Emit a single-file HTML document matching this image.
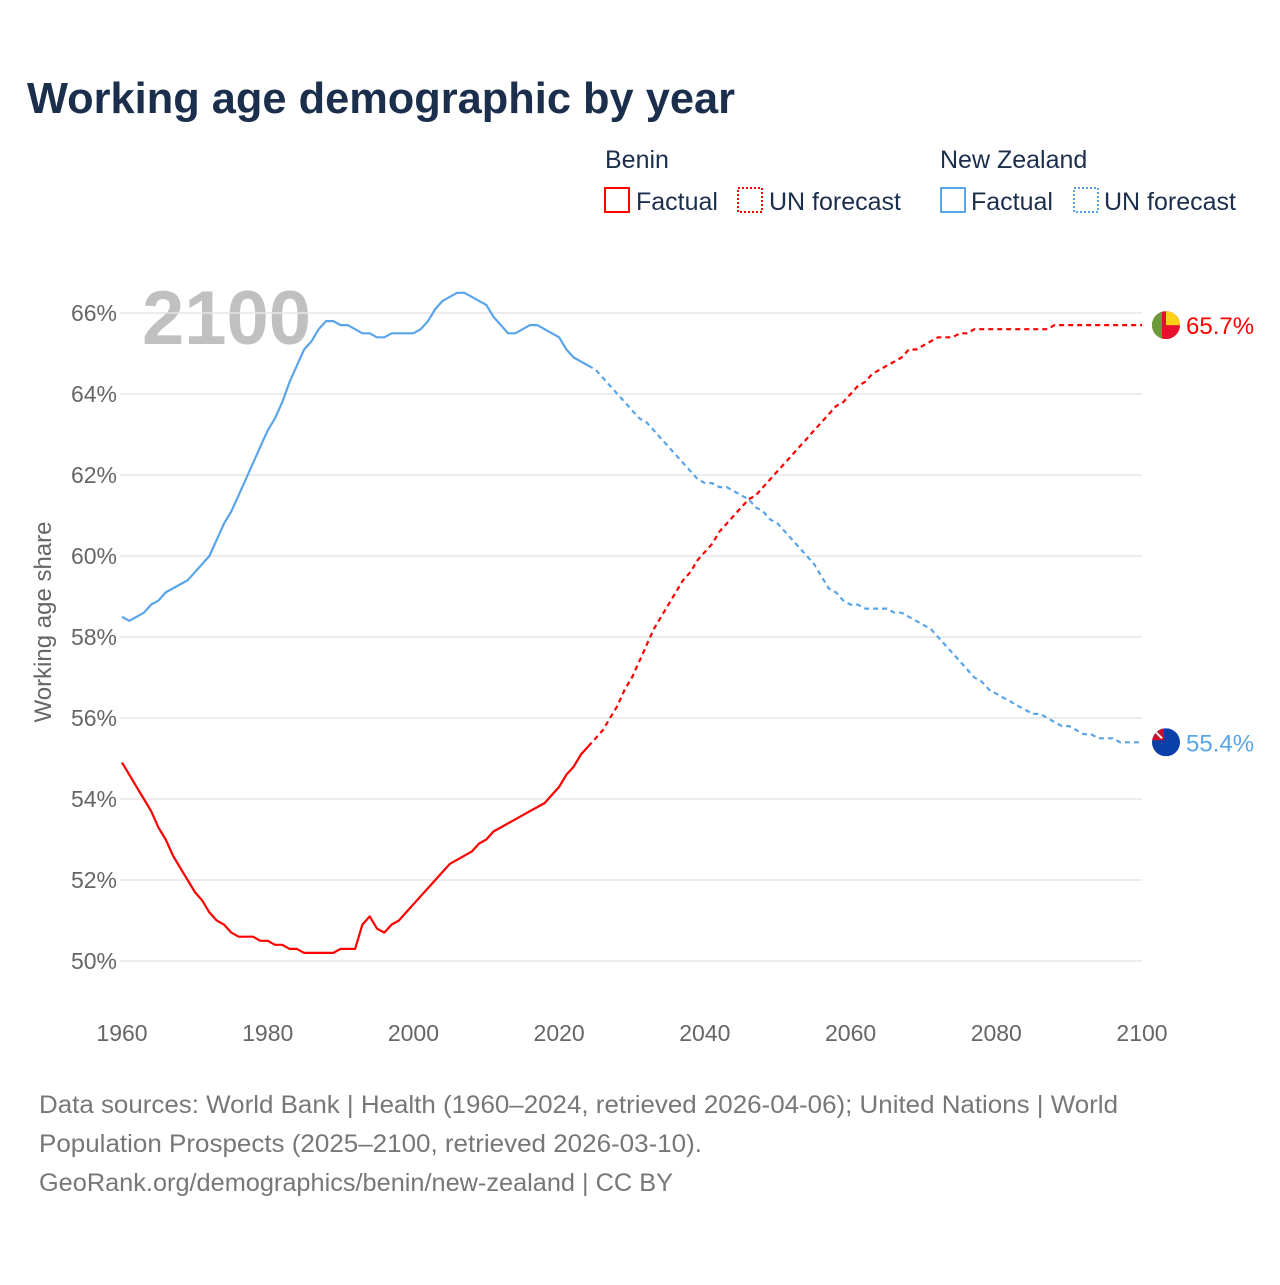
<!DOCTYPE html>
<html><head><meta charset="utf-8"><style>
body{margin:0;background:#fff;font-family:"Liberation Sans",sans-serif}
svg text{font-family:"Liberation Sans",sans-serif}
</style></head><body>
<svg id="chart" width="1280" height="1280" viewBox="0 0 1280 1280" xmlns="http://www.w3.org/2000/svg">
<text x="27" y="113" font-size="44" font-weight="bold" fill="#1b2f4d" textLength="708" lengthAdjust="spacingAndGlyphs">Working age demographic by year</text>
<g font-size="25" fill="#1b2f4d">
<text x="605" y="168">Benin</text>
<text x="940" y="168">New Zealand</text>
<g><rect x="605" y="188" width="24" height="24" fill="none" stroke="#f00" stroke-width="2"/><text x="636" y="210">Factual</text></g>
<g><rect x="738" y="188" width="24" height="24" fill="none" stroke="#f00" stroke-width="2" stroke-dasharray="2,2"/><text x="769" y="210">UN forecast</text></g>
<g><rect x="941" y="188" width="24" height="24" fill="none" stroke="#5aa5ea" stroke-width="2"/><text x="971" y="210">Factual</text></g>
<g><rect x="1074" y="188" width="24" height="24" fill="none" stroke="#5aa5ea" stroke-width="2" stroke-dasharray="2,2"/><text x="1104" y="210">UN forecast</text></g>
</g>
<text x="142" y="344" font-size="76" font-weight="bold" fill="#c0c0c0">2100</text>
<g id="grid"></g><g id="yticks"></g><g id="xticks"></g><g id="lines"></g><g id="ends"></g>
<text transform="translate(51,622) rotate(-90)" text-anchor="middle" font-size="24" fill="#666">Working age share</text>
<g font-size="25" fill="#777">
<text x="39" y="1113" textLength="1079" lengthAdjust="spacingAndGlyphs">Data sources: World Bank | Health (1960–2024, retrieved 2026-04-06); United Nations | World</text>
<text x="39" y="1152" textLength="663" lengthAdjust="spacingAndGlyphs">Population Prospects (2025–2100, retrieved 2026-03-10).</text>
<text x="39" y="1191" textLength="634" lengthAdjust="spacingAndGlyphs">GeoRank.org/demographics/benin/new-zealand | CC BY</text>
</g>
</svg>
<script>
const yTicks=[50,52,54,56,58,60,62,64,66];
const xTicks=[1960,1980,2000,2020,2040,2060,2080,2100];
const beninFactual=[54.9,54.6,54.3,54.0,53.7,53.3,53.0,52.6,52.3,52.0,51.7,51.5,51.2,51.0,50.9,50.7,50.6,50.6,50.6,50.5,50.5,50.4,50.4,50.3,50.3,50.2,50.2,50.2,50.2,50.2,50.3,50.3,50.3,50.9,51.1,50.8,50.7,50.9,51.0,51.2,51.4,51.6,51.8,52.0,52.2,52.4,52.5,52.6,52.7,52.9,53.0,53.2,53.3,53.4,53.5,53.6,53.7,53.8,53.9,54.1,54.3,54.6,54.8,55.1,55.3];
const beninForecast=[55.3,55.5,55.7,56.0,56.3,56.7,57.0,57.4,57.8,58.2,58.5,58.8,59.1,59.4,59.6,59.9,60.1,60.3,60.6,60.8,61.0,61.2,61.4,61.5,61.7,61.9,62.1,62.3,62.5,62.7,62.9,63.1,63.3,63.5,63.7,63.8,64.0,64.2,64.3,64.5,64.6,64.7,64.8,64.9,65.1,65.1,65.2,65.3,65.4,65.4,65.4,65.5,65.5,65.6,65.6,65.6,65.6,65.6,65.6,65.6,65.6,65.6,65.6,65.6,65.7,65.7,65.7,65.7,65.7,65.7,65.7,65.7,65.7,65.7,65.7,65.7,65.7];
const nzFactual=[58.5,58.4,58.5,58.6,58.8,58.9,59.1,59.2,59.3,59.4,59.6,59.8,60.0,60.4,60.8,61.1,61.5,61.9,62.3,62.7,63.1,63.4,63.8,64.3,64.7,65.1,65.3,65.6,65.8,65.8,65.7,65.7,65.6,65.5,65.5,65.4,65.4,65.5,65.5,65.5,65.5,65.6,65.8,66.1,66.3,66.4,66.5,66.5,66.4,66.3,66.2,65.9,65.7,65.5,65.5,65.6,65.7,65.7,65.6,65.5,65.4,65.1,64.9,64.8,64.7];
const nzForecast=[64.7,64.6,64.4,64.2,64.0,63.8,63.6,63.4,63.3,63.1,62.9,62.7,62.5,62.3,62.1,61.9,61.8,61.8,61.7,61.7,61.6,61.5,61.4,61.2,61.1,60.9,60.8,60.6,60.4,60.2,60.0,59.8,59.5,59.2,59.1,58.9,58.8,58.8,58.7,58.7,58.7,58.7,58.6,58.6,58.5,58.4,58.3,58.2,58.0,57.8,57.6,57.4,57.2,57.0,56.9,56.7,56.6,56.5,56.4,56.3,56.2,56.1,56.1,56.0,55.9,55.8,55.8,55.7,55.6,55.6,55.5,55.5,55.5,55.4,55.4,55.4,55.4];
const endLabels=["65.7%","55.4%"];
const NS="http://www.w3.org/2000/svg";
const X=yr=>122+(yr-1960)*(1020/140);
const Y=v=>313+(66-v)*40.5;
function mk(tag,attrs,parent){const e=document.createElementNS(NS,tag);for(const k in attrs)e.setAttribute(k,attrs[k]);document.getElementById(parent).appendChild(e);return e;}
yTicks.forEach(t=>{
 const l=mk('line',{x1:120,x2:1142,y1:Y(t),y2:Y(t),stroke:'#e6e6e6','stroke-width':1.5},'grid');
 
 
 const tx=mk('text',{x:117,y:Y(t)+8,'text-anchor':'end','font-size':23,fill:'#666'},'yticks');
 tx.textContent=t+'%';
 
 
});
xTicks.forEach(t=>{
 const tx=mk('text',{x:X(t),y:1041,'text-anchor':'middle','font-size':23,fill:'#666'},'xticks');
 tx.textContent=t;
 
 
});
function line(arr,start,color,dash,name){
 const d=arr.map((v,i)=>(i?'L':'M')+X(start+i).toFixed(1)+','+Y(v).toFixed(1)).join('');
 const p=mk('path',{d:d,fill:'none',stroke:color,'stroke-width':2.2,'stroke-linejoin':'round'},'lines');
 if(dash)p.setAttribute('stroke-dasharray','5,4');
 
 
}
line(nzFactual,1960,'#5aa5ea',false,'nz-factual-line');
line(nzForecast,2024,'#5aa5ea',true,'nz-forecast-line');
line(beninFactual,1960,'#f00',false,'benin-factual-line');
line(beninForecast,2024,'#f00',true,'benin-forecast-line');
const bLast=beninForecast[beninForecast.length-1], nLast=nzForecast[nzForecast.length-1];
const cx=1166;
let by=Y(bLast);
let g=mk('g',{},'ends');


g.innerHTML=`<clipPath id="cb"><circle cx="${cx}" cy="${by}" r="14"/></clipPath><g clip-path="url(#cb)"><rect x="${cx-14}" y="${by-14}" width="28" height="28" fill="#e8112d"/><rect x="${cx}" y="${by-14}" width="14" height="14" fill="#fcd116"/><rect x="${cx-14}" y="${by-14}" width="10" height="28" fill="#6a9a3a"/></g>`;
let t1=mk('text',{x:1186,y:by+9,'font-size':24,fill:'#f00'},'ends');
t1.textContent=endLabels[0];


let ny=Y(nLast);
let g2=mk('g',{},'ends');


g2.innerHTML=`<clipPath id="cn"><circle cx="${cx}" cy="${ny}" r="14"/></clipPath><g clip-path="url(#cn)"><rect x="${cx-14}" y="${ny-14}" width="28" height="28" fill="#0a3fa8"/><rect x="${cx-14}" y="${ny-14}" width="12" height="12" fill="#c8102e"/><line x1="${cx-12}" y1="${ny-12}" x2="${cx-4}" y2="${ny-4}" stroke="#fff" stroke-width="2"/></g>`;
let t2=mk('text',{x:1186,y:ny+9,'font-size':24,fill:'#5aa5ea'},'ends');
t2.textContent=endLabels[1];


</script>
</body></html>
